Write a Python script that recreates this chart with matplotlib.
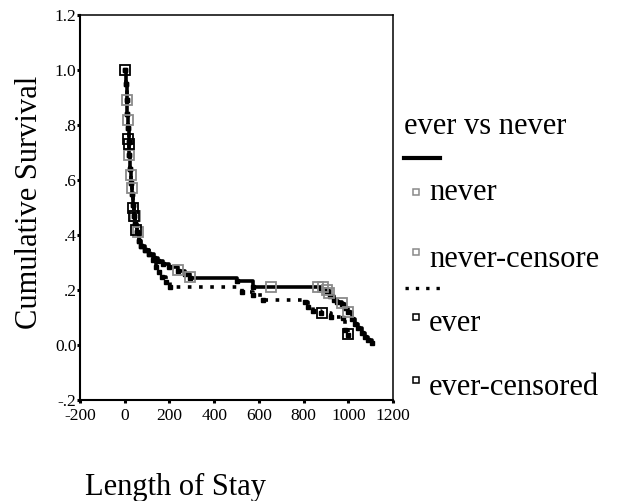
# Kaplan-Meier style survival plot: ever vs never, length of stay
import matplotlib
matplotlib.use("Agg")
from matplotlib import pyplot as plt
from matplotlib.lines import Line2D

plt.rcParams['font.family'] = ['Liberation Serif', 'DejaVu Serif']

# never group (solid line)
never_time = [0, 4, 8, 11, 14, 17, 21, 25, 29, 33, 38, 43, 48, 54, 62, 75, 90, 110, 130,
              150, 170, 200, 240, 270, 292, 500, 575, 880, 905, 920, 935, 948, 970, 985,
              1000, 1015, 1030, 1045, 1060, 1075, 1090, 1105]
never_surv = [1.0, 0.95, 0.89, 0.84, 0.79, 0.74, 0.69, 0.64, 0.59, 0.55, 0.51, 0.47, 0.44,
              0.41, 0.38, 0.36, 0.345, 0.33, 0.315, 0.305, 0.295, 0.285, 0.27, 0.258, 0.243,
              0.232, 0.212, 0.205, 0.195, 0.18, 0.165, 0.157, 0.148, 0.135, 0.121, 0.095,
              0.075, 0.061, 0.045, 0.03, 0.018, 0.006]
never_cens_time = [10, 14, 20, 27, 33, 45, 58, 240, 290, 653, 866, 885, 903, 915, 970, 1000]
never_cens_surv = [0.89, 0.82, 0.69, 0.62, 0.57, 0.47, 0.41, 0.273, 0.246, 0.212, 0.212,
                   0.212, 0.20, 0.19, 0.151, 0.121]

# ever group (dotted line)
ever_time = [0, 4, 8, 11, 14, 17, 21, 25, 29, 33, 38, 43, 48, 54, 62, 75, 90, 110, 125, 140,
             155, 165, 185, 203, 523, 575, 620, 806, 821, 840, 880, 921, 975, 985, 1000]
ever_surv = [1.0, 0.95, 0.89, 0.84, 0.79, 0.74, 0.69, 0.64, 0.59, 0.55, 0.51, 0.47, 0.44,
             0.41, 0.38, 0.36, 0.345, 0.33, 0.31, 0.285, 0.265, 0.248, 0.23, 0.212, 0.194,
             0.182, 0.164, 0.157, 0.139, 0.125, 0.117, 0.103, 0.097, 0.055, 0.036]
ever_cens_time = [0, 16, 19, 35, 42, 50, 884, 1000]
ever_cens_surv = [1.0, 0.75, 0.73, 0.50, 0.47, 0.42, 0.117, 0.04]

x_ticks = [-200, 0, 200, 400, 600, 800, 1000, 1200]
y_ticks = [-0.2, 0.0, 0.2, 0.4, 0.6, 0.8, 1.0, 1.2]
y_tick_labels = ['-.2', '0.0', '.2', '.4', '.6', '.8', '1.0', '1.2']

legend_title = "ever vs never"
legend_labels = ["never", "never-censore", "ever", "ever-censored"]

W, H = 623, 501
GREY = '#8a8a8a'


def fpos(px, py):
    # pixel position (from top-left) -> figure fraction
    return px / W, (H - py) / H


fig = plt.figure(figsize=(W / 100, H / 100), dpi=100)
ax = fig.add_axes([80 / W, (H - 400) / H, 313 / W, 385 / H])

ax.step(never_time, never_surv, where='post', color='black', lw=2.6,
        marker='s', ms=2.5, zorder=3)
ax.step(ever_time, ever_surv, where='post', color='black', lw=2.6,
        linestyle=(0, (1, 2.1)), marker='s', ms=2.5, zorder=3)
ax.plot(never_cens_time, never_cens_surv, ls='none', marker='s', ms=6.5,
        mfc='none', mec=GREY, mew=1.3, zorder=4)
ax.plot(ever_cens_time, ever_cens_surv, ls='none', marker='s', ms=6.5,
        mfc='none', mec='black', mew=1.3, zorder=4)

ax.set_xlim(-200, 1200)
ax.set_ylim(-0.2, 1.2)
ax.set_xticks(x_ticks)
ax.set_xticklabels([str(t) for t in x_ticks])
ax.set_yticks(y_ticks)
ax.set_yticklabels(y_tick_labels)
ax.tick_params(axis='both', direction='out', length=2, width=2.2, labelsize=12.5)
ax.tick_params(axis='y', pad=0.5)
ax.tick_params(axis='x', pad=4)
for side in ['left', 'bottom']:
    ax.spines[side].set_linewidth(1.5)
for side in ['top', 'right']:
    ax.spines[side].set_linewidth(1.1)

# axis titles
x, y = fpos(30, 202)
fig.text(x, y, "Cumulative Survival", rotation=90, ha='center', va='center', fontsize=22)
x, y = fpos(85, 495)
fig.text(x, y, "Length of Stay", ha='left', va='baseline', fontsize=22)

# legend drawn by hand, SPSS style
x, y = fpos(404, 134)
fig.text(x, y, legend_title, ha='left', va='baseline', fontsize=22)
x0, y0 = fpos(404, 158)
x1, _ = fpos(440, 158)
fig.add_artist(Line2D([x0, x1], [y0, y0], transform=fig.transFigure, color='black', lw=3))
x0, y0 = fpos(405, 288)
x1, _ = fpos(442, 288)
fig.add_artist(Line2D([x0, x1], [y0, y0], transform=fig.transFigure, color='black',
                      lw=2.4, linestyle=(0, (1, 2.1))))

rows = [(legend_labels[0], GREY, 192, 200),
        (legend_labels[1], GREY, 252, 267),
        (legend_labels[2], 'black', 317, 331),
        (legend_labels[3], 'black', 380, 395)]
for label, col, sq_y, base_y in rows:
    mx, my = fpos(416, sq_y)
    fig.add_artist(Line2D([mx], [my], transform=fig.transFigure, ls='none', marker='s',
                          ms=4.5, mfc='none', mec=col, mew=1.1))
    tx, ty = fpos(429, base_y)
    fig.text(tx, ty, label, ha='left', va='baseline', fontsize=22)

fig.savefig("out.png", dpi=100)
